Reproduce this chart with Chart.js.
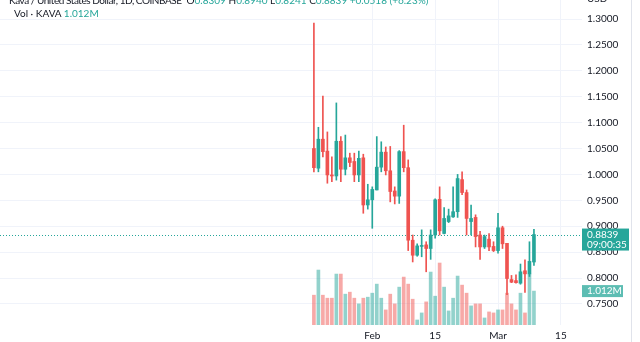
<!DOCTYPE html>
<html>
<head>
<meta charset="utf-8">
<script src="https://cdn.jsdelivr.net/npm/chart.js@4/dist/chart.umd.min.js"></script>
<style>
  html, body { margin: 0; padding: 0; background: #fff; overflow: hidden; }
  #wrap { position: relative; width: 631px; height: 342px; border-right: 1px solid #e0e3eb; }
  .legend { position: absolute; font: 10px Lato, sans-serif; color: #131722; white-space: nowrap; line-height: 12px; }
  .title { letter-spacing: -0.45px; margin-right: 5px; }
  .up { color: #26a69a; }
</style>
</head>
<body>
<div id="wrap">
  <canvas id="kava" width="631" height="342"></canvas>
  <div class="legend" id="head" style="top:-6px; left:9px"></div>
  <div class="legend" id="vol" style="top:7px; left:14px"></div>
  <div class="legend" style="top:-8px; left:587px">USD</div>
</div>
<script>
const dates = [
  '2023-01-19','2023-01-20','2023-01-21','2023-01-22','2023-01-23','2023-01-24','2023-01-25','2023-01-26','2023-01-27','2023-01-28',
  '2023-01-29','2023-01-30','2023-01-31','2023-02-01','2023-02-02','2023-02-03','2023-02-04','2023-02-05','2023-02-06','2023-02-07',
  '2023-02-08','2023-02-09','2023-02-10','2023-02-11','2023-02-12','2023-02-13','2023-02-14','2023-02-15','2023-02-16','2023-02-17',
  '2023-02-18','2023-02-19','2023-02-20','2023-02-21','2023-02-22','2023-02-23','2023-02-24','2023-02-25','2023-02-26','2023-02-27',
  '2023-02-28','2023-03-01','2023-03-02','2023-03-03','2023-03-04','2023-03-05','2023-03-06','2023-03-07','2023-03-08','2023-03-09'
]
const opens = [
  1.050, 1.012, 1.068, 1.045, 0.999, 0.997, 1.064, 1.010, 1.032, 1.025,
  0.999, 1.032, 0.941, 0.951, 0.970, 1.014, 1.043, 1.007, 0.968, 0.958,
  1.044, 1.013, 0.873, 0.844, 0.861, 0.864, 0.857, 0.883, 0.952, 0.886,
  0.909, 0.918, 0.928, 0.990, 0.965, 0.909, 0.917, 0.883, 0.860, 0.875,
  0.861, 0.853, 0.897, 0.867, 0.797, 0.795, 0.790, 0.814, 0.808, 0.8309
]
const highs = [
  1.292, 1.091, 1.151, 1.082, 1.034, 1.138, 1.073, 1.076, 1.041, 1.041,
  1.045, 1.039, 0.981, 0.976, 1.073, 1.063, 1.053, 1.054, 0.976, 1.046,
  1.095, 1.028, 0.883, 0.866, 0.893, 0.870, 0.893, 0.953, 0.976, 0.936,
  0.933, 0.976, 1.000, 1.005, 0.970, 0.941, 0.922, 0.890, 0.883, 0.886,
  0.870, 0.925, 0.900, 0.867, 0.805, 0.806, 0.827, 0.835, 0.870, 0.8940
]
const lows = [
  1.005, 1.005, 1.034, 0.983, 0.986, 0.989, 0.986, 0.999, 1.015, 0.986,
  0.986, 0.925, 0.933, 0.896, 0.970, 1.005, 0.999, 0.947, 0.943, 0.944,
  1.005, 0.853, 0.831, 0.842, 0.841, 0.812, 0.836, 0.877, 0.883, 0.885,
  0.907, 0.917, 0.917, 0.961, 0.883, 0.883, 0.860, 0.836, 0.857, 0.853,
  0.851, 0.848, 0.857, 0.768, 0.791, 0.790, 0.788, 0.772, 0.803, 0.8241
]
const closes = [
  1.013, 1.068, 1.044, 0.999, 0.997, 1.064, 1.010, 1.032, 1.023, 0.999,
  1.031, 0.941, 0.951, 0.971, 1.014, 1.043, 1.007, 0.967, 0.958, 1.044,
  1.013, 0.873, 0.844, 0.862, 0.862, 0.857, 0.883, 0.951, 0.891, 0.915,
  0.920, 0.928, 0.992, 0.965, 0.915, 0.915, 0.880, 0.860, 0.880, 0.860,
  0.853, 0.897, 0.866, 0.799, 0.792, 0.791, 0.812, 0.808, 0.8321, 0.8839
]
// volume in millions of KAVA
const volumes = [
  0.89, 1.64, 0.89, 0.80, 0.80, 1.52, 1.52, 0.92, 0.98, 0.80,
  0.63, 0.80, 0.83, 0.95, 1.22, 0.80, 0.45, 0.92, 0.63, 1.13,
  1.43, 1.22, 0.77, 0.15, 0.36, 0.69, 1.58, 0.86, 1.85, 1.13,
  0.42, 0.80, 1.46, 1.19, 0.95, 0.57, 0.63, 0.63, 0.21, 0.39,
  0.36, 0.45, 0.45, 0.95, 0.63, 0.45, 0.95, 0.36, 1.52, 1.012
]
const priceTicks = [0.75, 0.80, 0.85, 0.90, 0.95, 1.00, 1.05, 1.10, 1.15, 1.20, 1.25, 1.30]
const timeTickDates = ['2023-02-01', '2023-02-15', '2023-03-01', '2023-03-15']
const timeTickLabels = ['Feb', '15', 'Mar', '15']
const countdown = '09:00:35'

const UP = '#26a69a'
const DOWN = '#ef5350'
const font = { family: 'Lato, sans-serif', size: 10 }

const day = d => (Date.parse(d) - Date.parse(dates[0])) / 86400000
const isUp = dates.map((d, i) => closes[i] >= opens[i])
const candleColors = isUp.map(u => u ? UP : DOWN)
const volColors = isUp.map(u => u ? 'rgba(38,166,154,0.5)' : 'rgba(239,83,80,0.5)')

// legend text
const last = closes.length - 1
const chg = closes[last] - closes[last - 1]
const pct = chg / closes[last - 1] * 100
const v = n => '<span class="up">' + n + '</span>'
document.getElementById('head').innerHTML =
  '<span class="title">Kava / United States Dollar, 1D, COINBASE</span>O' + v(opens[last].toFixed(4)) +
  ' H' + v(highs[last].toFixed(4)) + ' L' + v(lows[last].toFixed(4)) +
  ' C' + v(closes[last].toFixed(4)) + ' ' + v((chg >= 0 ? '+' : '') + chg.toFixed(4) +
  ' (' + (pct >= 0 ? '+' : '') + pct.toFixed(2) + '%)')
document.getElementById('vol').innerHTML = 'Vol · KAVA ' + v(volumes[last].toFixed(3) + 'M')

const tags = {
  id: 'tags',
  beforeDatasetsDraw(chart) {
    const { ctx, chartArea } = chart
    const y = Math.round(chart.scales.y.getPixelForValue(closes[last])) + 0.5
    ctx.save()
    ctx.strokeStyle = UP
    ctx.lineWidth = 1
    ctx.setLineDash([1, 2])
    ctx.beginPath()
    ctx.moveTo(chartArea.left, y)
    ctx.lineTo(chartArea.right, y)
    ctx.stroke()
    ctx.restore()
  },
  afterDraw(chart) {
    const { ctx, chartArea } = chart
    const x = chartArea.right
    const yc = chart.scales.y.getPixelForValue(closes[last])
    const yv = chart.scales.yv.getPixelForValue(volumes[last])
    ctx.save()
    ctx.font = '10px Lato, sans-serif'
    ctx.textBaseline = 'middle'
    ctx.fillStyle = isUp[last] ? UP : DOWN
    ctx.fillRect(x, yc - 6, 47, 22)
    ctx.fillStyle = '#fff'
    ctx.fillText(closes[last].toFixed(4), x + 5, yc)
    ctx.fillText(countdown, x + 5, yc + 10)
    ctx.fillStyle = isUp[last] ? '#5dbdb3' : '#f07b78'
    ctx.fillRect(x, yv - 6, 41, 12)
    ctx.fillStyle = '#fff'
    ctx.fillText(volumes[last].toFixed(3) + 'M', x + 5, yv)
    ctx.restore()
  }
}

new Chart(document.getElementById('kava'), {
  type: 'bar',
  data: {
    datasets: [{
      label: 'Body',
      yAxisID: 'y',
      order: 0,
      data: dates.map((d, i) => ({ x: day(d), y: [opens[i], closes[i]] })),
      backgroundColor: candleColors,
      barThickness: 3,
      minBarLength: 1,
      grouped: false
    }, {
      label: 'Wick',
      yAxisID: 'y',
      order: 1,
      data: dates.map((d, i) => ({ x: day(d), y: [lows[i], highs[i]] })),
      backgroundColor: candleColors,
      barThickness: 1,
      grouped: false
    }, {
      label: 'Volume',
      yAxisID: 'yv',
      order: 2,
      data: dates.map((d, i) => ({ x: day(d), y: volumes[i] })),
      backgroundColor: volColors,
      barThickness: 3,
      grouped: false
    }]
  },
  options: {
    responsive: false,
    animation: false,
    layout: { padding: 0 },
    plugins: { legend: { display: false }, tooltip: { enabled: false } },
    scales: {
      x: {
        type: 'linear',
        offset: false,
        min: -69.9,
        max: 59.7,
        grid: { color: '#f0f3fa', drawTicks: false, offset: false },
        border: { display: false },
        afterBuildTicks: s => { s.ticks = timeTickDates.map(d => ({ value: day(d) })) },
        afterFit: s => { s.height = 17; s.paddingLeft = 0; s.paddingRight = 0 },
        ticks: {
          autoSkip: false,
          maxRotation: 0,
          padding: 5,
          font: font,
          color: '#131722',
          callback: (val, i) => timeTickLabels[i]
        }
      },
      y: {
        position: 'right',
        min: 0.7093,
        max: 1.3367,
        grid: { color: '#f0f3fa', drawTicks: false },
        border: { display: false },
        afterBuildTicks: s => { s.ticks = priceTicks.map(p => ({ value: p })) },
        afterFit: s => { s.width = 49; s.paddingTop = 0; s.paddingBottom = 0 },
        ticks: {
          padding: 5,
          font: font,
          color: '#131722',
          callback: val => val.toFixed(4)
        }
      },
      yv: {
        display: false,
        min: 0,
        max: 9.7
      }
    }
  },
  plugins: [tags]
})
</script>
</body>
</html>
